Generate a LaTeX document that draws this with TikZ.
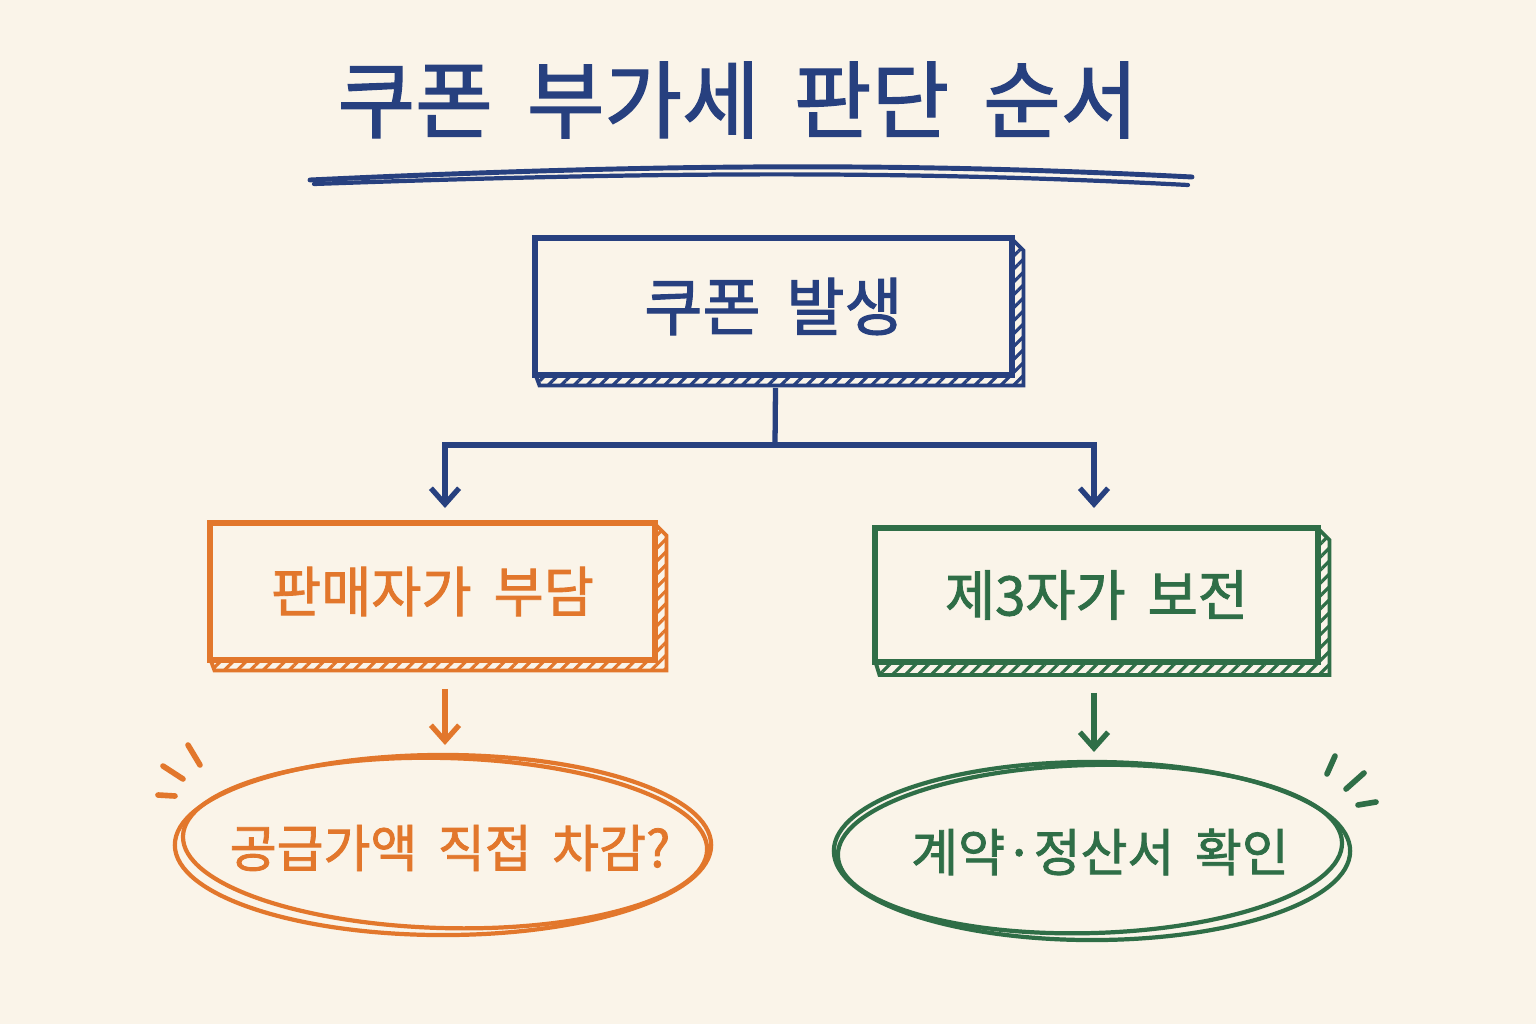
\documentclass[tikz,border=0pt]{standalone}
\usepackage{fontspec}
\setmainfont{Noto Sans CJK KR}[WordSpace=1.8]
\newfontfamily\markerfont{Noto Sans CJK KR}[WordSpace=1.8, FakeBold=1.6]
\usetikzlibrary{arrows.meta,calc,patterns.meta,shapes.geometric}
\definecolor{navy}{HTML}{27407F}
\definecolor{orng}{HTML}{E2772C}
\definecolor{grn}{HTML}{2F6E47}
\definecolor{paper}{HTML}{FAF4E9}
\tikzset{
  boxnode/.style={draw, line width=1.6pt, fill=paper, rectangle, inner sep=0pt},
  shadowstrip/.style={line width=1.1pt, pattern={Lines[angle=45,distance=2.6pt,line width=0.9pt]}},
  ovalring/.style={line width=1.2pt},
  conn/.style={line width=1.5pt},
  arr/.style={line width=1.5pt, -{Straight Barb[length=4.5pt,width=8pt,line width=1.5pt]}},
  burst/.style={line width=1.6pt, line cap=round},
}
\begin{document}
\begin{tikzpicture}[x=0.01cm,y=-0.01cm]
\fill[paper] (0,0) rectangle (1536,1024);
\useasboundingbox (0,0) rectangle (1536,1024);

% title
\node[navy, font=\markerfont\fontsize{24}{28}\selectfont] (title) at (738,100) {쿠폰 부가세 판단 순서};
\draw[navy, line width=1.4pt, line cap=round] (310,180) .. controls (650,164) and (900,162) .. (1192,177);
\draw[navy, line width=1.2pt, line cap=round] (314,184) .. controls (650,172) and (900,170) .. (1188,185);

% top box
\coordinate (topc) at (773.5,306.5);
\path[draw=navy, pattern color=navy, shadowstrip] ($(topc)+(-238,68)$) -- ($(topc)+(-234,79)$) -- ($(topc)+(250,79)$) -- ($(topc)+(250,-56)$) -- ($(topc)+(238,-68)$) -- cycle;
\node[boxnode, draw=navy, text=navy, minimum width=4.77cm, minimum height=1.37cm, font=\markerfont\fontsize{18}{21}\selectfont] (top) at (topc) {쿠폰 발생};

% left box
\coordinate (leftc) at (432.5,591.5);
\path[draw=orng, pattern color=orng, shadowstrip] ($(leftc)+(-222,68)$) -- ($(leftc)+(-218,79)$) -- ($(leftc)+(234,79)$) -- ($(leftc)+(234,-56)$) -- ($(leftc)+(222,-68)$) -- cycle;
\node[boxnode, draw=orng, text=orng, minimum width=4.45cm, minimum height=1.37cm, font=\markerfont\fontsize{15.5}{18}\selectfont] (left) at (leftc) {판매자가 부담};

% right box
\coordinate (rightc) at (1096.5,595);
\path[draw=grn, pattern color=grn, shadowstrip] ($(rightc)+(-221,67)$) -- ($(rightc)+(-217,80)$) -- ($(rightc)+(233,80)$) -- ($(rightc)+(233,-55)$) -- ($(rightc)+(221,-67)$) -- cycle;
\node[boxnode, draw=grn, text=grn, minimum width=4.43cm, minimum height=1.34cm, font=\markerfont\fontsize{15.5}{18}\selectfont] (right) at (rightc) {제3자가 보전};

% connectors from top box
\coordinate (split) at (775,445);
\coordinate (la) at (445,508);
\coordinate (ra) at (1094,508);
\draw[navy, conn] ($(top.south)+(2,10)$) -- (split);
\draw[navy, arr] (split) -| (la);
\draw[navy, arr] (split) -| (ra);

% ovals
\node[text=orng, inner sep=0pt, font=\markerfont\fontsize{14.5}{17}\selectfont] (lo) at (450,848) {공급가액 직접 차감?};
\draw[orng, ovalring] (443,845) ellipse [x radius=2.68cm, y radius=0.90cm];
\draw[orng, ovalring, rotate around={-1.5:(443,845)}] (445,843) ellipse [x radius=2.62cm, y radius=0.85cm];
\node[text=grn, inner sep=0pt, font=\markerfont\fontsize{14.5}{17}\selectfont] (ro) at (1100,852) {계약·정산서 확인};
\draw[grn, ovalring] (1092,851) ellipse [x radius=2.58cm, y radius=0.89cm];
\draw[grn, ovalring, rotate around={1.5:(1092,851)}] (1090,849) ellipse [x radius=2.52cm, y radius=0.84cm];
\coordinate (lotop) at (445,745);
\coordinate (rotop) at (1094,752);

% arrows to ovals
\draw[orng, arr] ($(left.south)+(12.5,26)$) -- (lotop);
\draw[grn, arr] ($(right.south)+(-2.5,28)$) -- (rotop);

% burst marks
\draw[orng, burst] (188,745) -- (200,765);
\draw[orng, burst] (163,766) -- (183,779);
\draw[orng, burst] (158,795) -- (175,796);
\draw[grn, burst] (1335,756) -- (1327,774);
\draw[grn, burst] (1364,773) -- (1346,789);
\draw[grn, burst] (1358,805) -- (1376,802);
\end{tikzpicture}
\end{document}
